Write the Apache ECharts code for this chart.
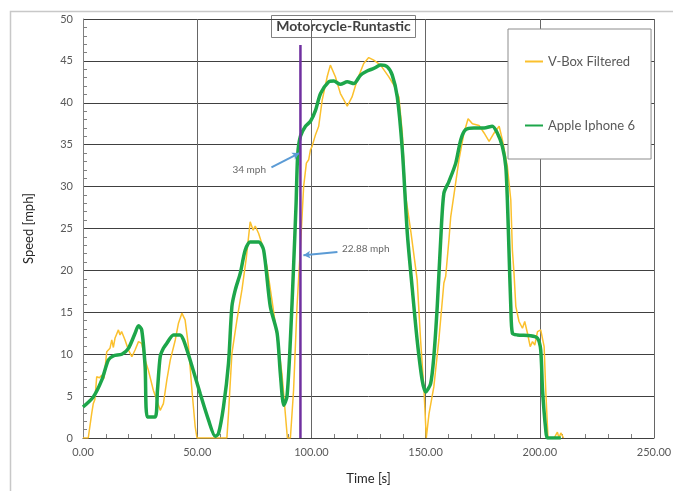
<!DOCTYPE html>
<html lang="en">
<head>
    <meta charset="UTF-8">
    <title>Motorcycle-Runtastic</title>
    <script src="https://cdn.jsdelivr.net/npm/echarts@6/dist/echarts.min.js"></script>
    <style>
        html, body {margin: 0; padding: 0; background: #fff;}
        #chart {width: 673px; height: 491px;}
    </style>
</head>
<body>
<div id="chart"></div>
<script type="text/javascript">
    // time [s], speed [mph]
    var vboxFiltered = [
        [0, 0], [2.3, 0], [3.8, 2.9], [4.5, 4.1], [5.2, 4.6], [6, 7.3], [7.2, 7.2], [8.2, 7.5], [9.2, 7.1],
        [10.4, 10.3], [11.8, 10.7], [12.6, 11.7], [13.3, 10.8], [14, 11.9], [15.5, 12.9], [16.2, 12.3],
        [16.9, 12.7], [18.4, 11.7], [19.9, 10.5], [21.4, 9.7], [22.8, 10.5], [24.3, 11.5], [25.7, 11.3],
        [27.2, 9.3], [28.6, 8.1], [30.8, 5.7], [32.3, 4.5], [33.8, 3.3], [35.2, 4.1], [36.7, 6.9],
        [38.2, 9.3], [40.4, 11.7], [41.8, 13.7], [43.3, 14.9], [44.7, 14.1], [46.2, 10.9], [47.7, 5.7],
        [49.1, 1.4], [49.9, 0], [63, 0], [63.7, 2.9], [65.2, 10.1], [67.4, 14.1], [69.6, 17.7],
        [71.5, 21.5], [73.2, 25.8], [74.5, 24.8], [75.4, 25.3], [76.9, 24.4], [78.3, 23.2], [80.6, 20.4],
        [82.7, 16.5], [85, 12.1], [87.1, 7.7], [89.3, 0.6], [89.5, 0], [90.8, 0], [92.2, 5.7],
        [93.7, 15.7], [95.2, 22.8], [96.6, 30], [97.8, 32.8], [98.8, 33.2], [99.6, 34.4], [100.3, 34.8],
        [101.8, 36.2], [103.2, 37.2], [104.7, 40.3], [106.9, 43.1], [108.3, 44.5], [109.1, 44.4],
        [110.5, 43.1], [112.7, 41.1], [115.7, 39.6], [117.8, 40.7], [120, 42.7], [122.9, 44.7],
        [125.1, 45.4], [127.3, 45.1], [130.3, 44.5], [133.9, 43.1], [136.1, 42.1], [138.3, 40.7],
        [139.8, 36.4], [141.2, 29], [143.6, 24.5], [146.3, 18.9], [147.8, 11.7],
        [149.3, 5.7], [150.3, 0], [151.5, 2.9], [153.6, 6.1], [155.8, 11.7], [158, 18.5], [158.8, 19.3],
        [160.2, 23.6], [161, 26.4], [162.5, 29.2], [164.6, 33.2], [166.8, 36.4], [168.6, 38.1],
        [170.5, 37.5], [173.4, 37.3], [175.6, 36.4], [177.8, 35.4], [180, 36.4], [182.2, 37.2],
        [183.6, 35.6], [185.8, 32.4], [187.3, 28.4], [188, 22.4], [188.7, 19.7], [189.5, 15.7],
        [190.9, 13.9], [192.4, 13.1], [193.4, 13.9], [194.6, 12.5], [195.8, 10.9], [196.8, 11.5],
        [197.8, 11.1], [199, 12.7], [200.4, 12.9], [201.9, 10.9], [202.6, 5.7], [203.6, 0], [206.3, 0],
        [207.7, 0.7], [208.4, 0], [209.2, 0.6], [210.4, 0]
    ];

    var appleIphone6 = [
        [0, 3.7], [4.5, 4.9], [8.2, 6.9], [11.1, 9.3], [13.3, 9.8], [17, 10.0], [19.9, 10.7],
        [22.8, 12.5], [24.3, 13.4], [25.7, 12.9], [27.2, 8.5], [28.2, 2.5], [31.6, 2.5], [32.6, 5.7],
        [33.8, 9.7], [35.2, 10.7], [36.7, 11.3], [39.6, 12.3], [42.5, 12.3], [44, 11.7], [46.9, 9.3],
        [51.3, 5.3], [55, 2.1], [57.9, 0.2], [59.3, 0.5], [61.5, 3.7], [63.7, 8.9], [65.2, 15.7],
        [66.7, 17.7], [68.9, 19.7], [71, 22.4], [73.2, 23.4], [76.9, 23.4], [79.1, 22.4], [82, 15.7],
        [85, 12.5], [86.4, 7.7], [87.9, 3.9], [89.3, 4.9], [90.8, 11.7], [92.2, 20.5], [93.3, 28],
        [94, 33.8], [95.2, 36], [97.4, 37.2], [99.6, 37.8], [101.8, 39.1], [104, 41.1], [107.6, 42.5],
        [109.8, 42.6], [112.7, 42.2], [115.7, 42.5], [118.6, 42.3], [121.5, 43.3], [124.4, 43.8],
        [127.3, 44.1], [130.3, 44.5], [133.2, 44.3], [135.4, 43.3], [137.6, 40.7], [139.8, 34.4],
        [142, 24.4], [144.2, 17.7], [146.3, 11.7], [148.5, 6.9], [150, 5.5], [152.2, 6.5],
        [153.6, 9.7], [155.1, 15.7], [156.6, 23.6], [158, 29.2], [160.2, 30.6], [163.2, 32.8],
        [165.4, 35.6], [167.5, 36.8], [171.2, 37], [175.6, 37], [179.2, 37.2], [181.4, 36.4],
        [183.6, 34.8], [185.1, 32.4], [185.8, 28.4], [186.5, 22.4], [187.3, 15.7], [188, 12.5],
        [190.2, 12.3], [196, 12.2], [199, 11.9], [200.4, 10.5], [201.2, 5.7], [202.6, 1], [203.4, 0],
        [209.2, 0]
    ];

    var markerTime = [[95.2, 0], [95.2, 46.9]];
    var arrows = [
        [[82.5, 32.3], [94.7, 34.0]],
        [[111.4, 22.2], [96.5, 21.8]]
    ];
    var notes = [
        {text: '34 mph', at: [81.0, 32.0], side: 'left'},
        {text: '22.88 mph', at: [112.5, 22.6], side: 'right'}
    ];

    var xTicks = {min: 0, max: 250, step: 50};
    var yTicks = {min: 0, max: 50, step: 5};

    var font = 'Lato, "Noto Sans", sans-serif';
    var chart = echarts.init(document.getElementById('chart'));

    var option = {
        animation: false,
        backgroundColor: '#fff',
        grid: {left: 83, right: 19, top: 19, bottom: 53, outerBoundsMode: 'none'},
        graphic: [
            {
                type: 'rect', left: 8, top: 9, z: -10, silent: true,
                shape: {width: 700, height: 520},
                style: {fill: 'none', stroke: '#c8c8c8', lineWidth: 1.5}
            },
            {
                type: 'group', left: 271, top: 15, z: 100,
                children: [
                    {type: 'rect', shape: {width: 144, height: 22},
                        style: {fill: '#fff', stroke: '#808080', lineWidth: 1}},
                    {type: 'text', x: 72, y: 11,
                        style: {text: 'Motorcycle-Runtastic', fill: '#404040', font: 'bold 14px ' + font,
                            align: 'center', verticalAlign: 'middle'}}
                ]
            }
        ],
        legend: {
            left: 508, top: 29, orient: 'vertical',
            padding: [26, 16, 27, 16], itemGap: 51,
            itemWidth: 18, itemHeight: 14,
            borderColor: '#8c8c8c', borderWidth: 1, backgroundColor: '#fff',
            itemStyle: {opacity: 0},
            textStyle: {color: '#595959', fontSize: 13, fontFamily: font},
            data: ['V-Box Filtered', 'Apple Iphone 6']
        },
        xAxis: {
            type: 'value', min: xTicks.min, max: xTicks.max, interval: xTicks.step,
            name: 'Time [s]', nameLocation: 'middle', nameGap: 34,
            nameTextStyle: {color: '#262626', fontSize: 13, fontFamily: font},
            axisLine: {lineStyle: {color: '#404040', width: 1}},
            axisTick: {show: false, inside: true},
            minorTick: {show: true, splitNumber: 5, length: 4, lineStyle: {color: '#808080'}},
            axisLabel: {color: '#595959', fontSize: 11, fontFamily: font, margin: 9,
                formatter: function (v) { return v.toFixed(2); }},
            splitLine: {show: true, lineStyle: {color: '#666', width: 1}}
        },
        yAxis: {
            type: 'value', min: yTicks.min, max: yTicks.max, interval: yTicks.step,
            name: 'Speed [mph]', nameLocation: 'middle', nameGap: 48, nameRotate: 90,
            nameTextStyle: {color: '#262626', fontSize: 13, fontFamily: font},
            axisLine: {show: true, lineStyle: {color: '#808080', width: 1}},
            axisTick: {show: false, inside: true},
            minorTick: {show: true, splitNumber: 5, length: 4, lineStyle: {color: '#808080'}},
            axisLabel: {color: '#595959', fontSize: 11, fontFamily: font, margin: 10},
            splitLine: {show: true, lineStyle: {color: '#404040', width: 1}}
        },
        series: [
            {
                name: 'V-Box Filtered', type: 'line', data: vboxFiltered,
                showSymbol: false, symbol: 'none', z: 3,
                color: '#FBC02D',
                lineStyle: {color: '#FBC02D', width: 1.5}
            },
            {
                name: 'Apple Iphone 6', type: 'line', data: appleIphone6,
                showSymbol: false, symbol: 'none', smooth: 0.25, z: 4,
                color: '#1DA64A',
                lineStyle: {color: '#1DA64A', width: 3.5}
            },
            {
                name: 'marker', type: 'line', data: markerTime,
                showSymbol: false, symbol: 'none', z: 5,
                lineStyle: {color: '#7030A0', width: 2.5},
                markLine: {
                    silent: true, symbol: ['none', 'arrow'], symbolSize: [6, 7],
                    label: {show: false},
                    lineStyle: {color: '#5B9BD5', width: 2, type: 'solid'},
                    data: arrows.map(function (a) {
                        return [{coord: a[0]}, {coord: a[1]}];
                    })
                }
            },
            {
                name: 'notes', type: 'scatter', symbolSize: 0, z: 6,
                data: notes.map(function (n) {
                    return {value: n.at, name: n.text,
                        label: {show: true, position: n.side, distance: 2, formatter: n.text,
                            color: '#404040', fontSize: 10, fontFamily: font}};
                })
            }
        ]
    };

    chart.setOption(option);
</script>
</body>
</html>
